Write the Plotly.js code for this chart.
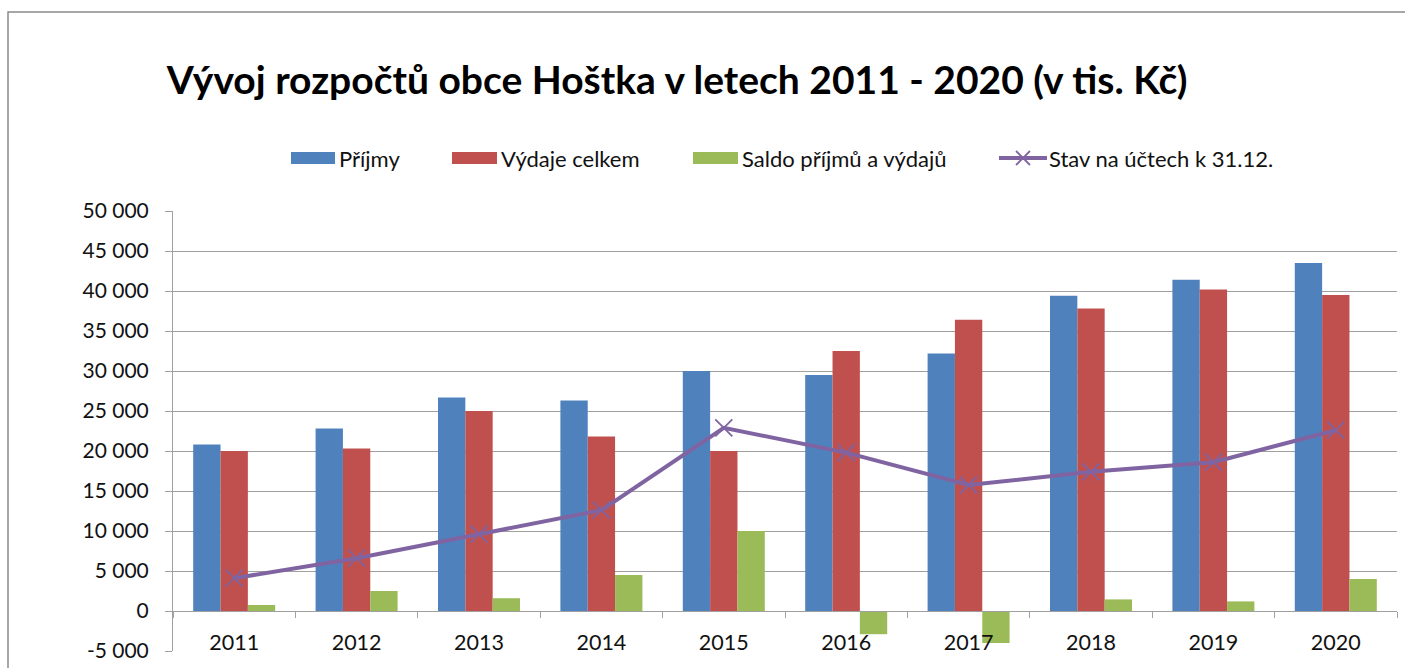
<!DOCTYPE html>
<html>
<head>
<meta charset="utf-8">
<script src="https://cdn.plot.ly/plotly-3.0.1.min.js"></script>
<style>
  html, body { margin: 0; padding: 0; background: #ffffff; }
  #chart { width: 1405px; height: 668px; }
</style>
</head>
<body>
<div id="chart"></div>
<script>
// ---- data ----
const years = ['2011', '2012', '2013', '2014', '2015', '2016', '2017', '2018', '2019', '2020'];
const prijmy = [20800, 22800, 26700, 26300, 30000, 29500, 32200, 39400, 41400, 43500];
const vydaje = [20000, 20300, 25000, 21800, 20000, 32500, 36400, 37800, 40200, 39500];
const saldo = [750, 2500, 1600, 4500, 10000, -2900, -4000, 1450, 1200, 4000];
const stav = [4100, 6600, 9600, 12600, 22900, 19800, 15750, 17400, 18600, 22600];
const yTickVals = [-5000, 0, 5000, 10000, 15000, 20000, 25000, 30000, 35000, 40000, 45000, 50000];
const yTickText = ['-5 000', '0', '5 000', '10 000', '15 000', '20 000', '25 000', '30 000', '35 000', '40 000', '45 000', '50 000'];
const seriesNames = ['Příjmy', 'Výdaje celkem', 'Saldo příjmů a výdajů', 'Stav na účtech k 31.12.'];
const titleText = 'Vývoj rozpočtů obce Hoštka v letech 2011 - 2020 (v tis. Kč)';

// ---- styling ----
const C_BLUE = '#4F81BD', C_RED = '#C0504D', C_GREEN = '#9BBB59', C_PURPLE = '#8064A2';
const GRID = '#a0a0a0';
const FONT = 'Lato, "Open Sans", "DejaVu Sans", sans-serif';

const W = 1405, H = 668;
const M = { l: 173, r: 8, t: 211, b: 17 };
const PW = W - M.l - M.r, PH = H - M.t - M.b;
const px2x = px => (px - M.l) / PW;
const py2y = py => (H - M.b - py) / PH;

const traces = [
  { type: 'bar', name: seriesNames[0], x: years, y: prijmy, marker: { color: C_BLUE }, hoverinfo: 'y' },
  { type: 'bar', name: seriesNames[1], x: years, y: vydaje, marker: { color: C_RED }, hoverinfo: 'y' },
  { type: 'bar', name: seriesNames[2], x: years, y: saldo, marker: { color: C_GREEN }, hoverinfo: 'y' },
  { type: 'scatter', mode: 'lines+markers', name: seriesNames[3], x: years, y: stav,
    line: { color: C_PURPLE, width: 4 },
    marker: { symbol: 'x-thin', size: 17, color: C_PURPLE, line: { color: C_PURPLE, width: 1.8 } },
    hoverinfo: 'y' }
];

// ---- custom legend (swatches + texts) ----
const legendY = 158;
const shapes = [];
const annotations = [];
const legendItems = [
  { kind: 'bar', color: C_BLUE, x0: 291, x1: 335, tx: 337, text: seriesNames[0] },
  { kind: 'bar', color: C_RED, x0: 452, x1: 497, tx: 499, text: seriesNames[1] },
  { kind: 'bar', color: C_GREEN, x0: 693, x1: 738, tx: 740, text: seriesNames[2] },
  { kind: 'line', color: C_PURPLE, x0: 999, x1: 1047, tx: 1047, text: seriesNames[3] }
];
legendItems.forEach(it => {
  if (it.kind === 'bar') {
    shapes.push({ type: 'rect', xref: 'paper', yref: 'paper',
      x0: px2x(it.x0), x1: px2x(it.x1), y0: py2y(legendY + 6), y1: py2y(legendY - 6),
      fillcolor: it.color, line: { width: 0 } });
  } else {
    shapes.push({ type: 'line', xref: 'paper', yref: 'paper',
      x0: px2x(it.x0), x1: px2x(it.x1), y0: py2y(legendY), y1: py2y(legendY),
      line: { color: it.color, width: 4 } });
    const cx = (it.x0 + it.x1) / 2;
    shapes.push({ type: 'line', xref: 'paper', yref: 'paper',
      x0: px2x(cx - 7), x1: px2x(cx + 7), y0: py2y(legendY - 7), y1: py2y(legendY + 7),
      line: { color: it.color, width: 1.8 } });
    shapes.push({ type: 'line', xref: 'paper', yref: 'paper',
      x0: px2x(cx - 7), x1: px2x(cx + 7), y0: py2y(legendY + 7), y1: py2y(legendY - 7),
      line: { color: it.color, width: 1.8 } });
  }
  annotations.push({ xref: 'paper', yref: 'paper', x: px2x(it.tx), y: py2y(legendY),
    xanchor: 'left', yanchor: 'middle', showarrow: false, text: it.text,
    font: { family: FONT, size: 22, color: '#111' } });
});

// outer frame
shapes.push({ type: 'rect', xref: 'paper', yref: 'paper', layer: 'below',
  x0: px2x(8), x1: px2x(1430), y0: py2y(12), y1: py2y(700),
  line: { color: '#8a8a8a', width: 1.5 }, fillcolor: 'rgba(0,0,0,0)' });

const layout = {
  width: W, height: H,
  margin: M,
  paper_bgcolor: '#ffffff', plot_bgcolor: '#ffffff',
  showlegend: false,
  barmode: 'group', bargap: 0.33, bargroupgap: 0,
  font: { family: FONT, size: 21, color: '#111' },
  title: {
    text: '<b>' + titleText + '</b>',
    font: { family: FONT, size: 39, color: '#000' },
    xref: 'container', yref: 'container',
    x: 677 / W, xanchor: 'center',
    y: 1 - 80 / H, yanchor: 'middle'
  },
  xaxis: {
    type: 'category',
    range: [-0.5, 9.5], autorange: false,
    anchor: 'free', position: (0 - (-5000)) / 55000,
    showline: true, linecolor: GRID, linewidth: 1,
    showgrid: false, zeroline: false,
    ticks: 'outside', tickson: 'boundaries', ticklen: 6, tickcolor: GRID, tickwidth: 1,
    tickfont: { family: FONT, size: 21.5, color: '#111' },
    ticklabelstandoff: 12,
    fixedrange: true
  },
  yaxis: {
    range: [-5000, 50000], autorange: false,
    tickvals: yTickVals, ticktext: yTickText,
    showline: true, linecolor: GRID, linewidth: 1,
    showgrid: true, gridcolor: GRID, gridwidth: 1,
    zeroline: false,
    ticks: 'outside', ticklen: 7, tickcolor: GRID, tickwidth: 1,
    tickfont: { family: FONT, size: 21, color: '#111' },
    ticklabelstandoff: 12,
    fixedrange: true
  },
  shapes: shapes,
  annotations: annotations
};

Plotly.newPlot('chart', traces, layout, { displayModeBar: false, staticPlot: true });
</script>
</body>
</html>
